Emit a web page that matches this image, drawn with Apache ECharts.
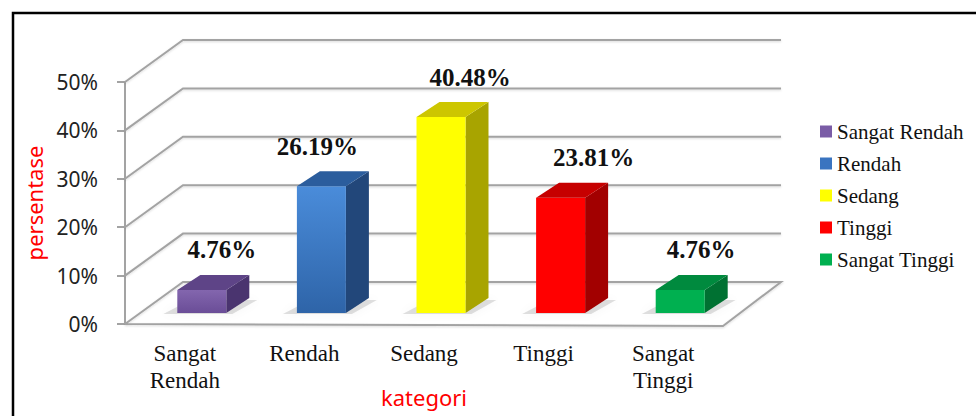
<!DOCTYPE html>
<html lang="id">
<head>
    <meta charset="UTF-8">
    <script src="https://cdn.jsdelivr.net/npm/echarts@6/dist/echarts.min.js"></script>
    <title>Kategori</title>
    <style>
        html, body {
            margin: 0;
            padding: 0;
            background: #fff;
        }

        #main {
            width: 976px;
            height: 416px;
        }
    </style>
</head>
<body>
    <div id="main"></div>
    <script>
        var categories = ['Sangat Rendah', 'Rendah', 'Sedang', 'Tinggi', 'Sangat Tinggi'];
        var axisLabels = ['Sangat\nRendah', 'Rendah', 'Sedang', 'Tinggi', 'Sangat\nTinggi'];
        var percentages = [4.76, 26.19, 40.48, 23.81, 4.76];
        var yTicks = [0, 10, 20, 30, 40, 50];

        // colours of the three visible faces of each column
        var faceColors = [
            { front: ['#8366ae', '#6a4d97'], top: '#5e4487', side: '#4a346f', legend: '#7a5ca6' },
            { front: ['#4a8cda', '#2e64a8'], top: '#2b5d9d', side: '#22477a', legend: '#3a74c0' },
            { front: ['#ffff00', '#ffff00'], top: '#cdc600', side: '#a8a400', legend: '#ffff00' },
            { front: ['#ff0000', '#ff0000'], top: '#c60000', side: '#a20000', legend: '#ff0000' },
            { front: ['#00b050', '#00b050'], top: '#008a3e', side: '#007132', legend: '#00b050' }
        ];
        // horizontal nudge of each value label (Excel places them unevenly)
        var labelDx = [20, -4, 29, 33, 21];

        // fake 3D depth
        var WALL_DX = 58, WALL_DY = 42;
        var BAR_OFF_X = 17, BAR_OFF_Y = 11;
        var BAR_W = 49, BAR_DX = 23, BAR_DY = 15;
        var GRID_COLOR = '#a3a3a3';

        var chart = echarts.init(document.getElementById('main'), null, { renderer: 'svg' });

        function renderWall(params, api) {
            var cs = params.coordSys;
            var y = api.coord([0, api.value(1)])[1];
            var left = cs.x, right = cs.x + cs.width;
            var pts = [[left, y], [left + WALL_DX, y - WALL_DY], [right + WALL_DX, y - WALL_DY]];
            if (api.value(1) === 0) {
                // floor: back edge plus right and front edges
                pts.push([right, y + 2]);
                pts.push([left, y]);
            }
            return {
                type: 'polyline',
                shape: { points: pts },
                style: { stroke: GRID_COLOR, lineWidth: 2, fill: null, shadowColor: 'rgba(0,0,0,0.15)', shadowBlur: 2, shadowOffsetY: 1 }
            };
        }

        function renderBar(params, api) {
            var idx = api.value(0);
            var v = api.value(1);
            var base = api.coord([idx, 0]);
            var top = api.coord([idx, v]);
            var xl = base[0] + BAR_OFF_X - BAR_W / 2;
            var xr = xl + BAR_W;
            var yb = base[1] - BAR_OFF_Y;
            var yt = top[1] - BAR_OFF_Y;
            var c = faceColors[idx];
            return {
                type: 'group',
                children: [
                    {
                        type: 'polygon',
                        shape: { points: [[xl - 14, yb + 1], [xl + BAR_DX - 10, yb - BAR_DY + 2], [xr + BAR_DX + 8, yb - BAR_DY + 2], [xr + 6, yb + 1]] },
                        style: { fill: 'rgba(0,0,0,0.12)', shadowColor: 'rgba(0,0,0,0.3)', shadowBlur: 8 }
                    },
                    {
                        type: 'polygon',
                        shape: { points: [[xr, yt], [xr + BAR_DX, yt - BAR_DY], [xr + BAR_DX, yb - BAR_DY], [xr, yb]] },
                        style: { fill: c.side }
                    },
                    {
                        type: 'rect',
                        shape: { x: xl, y: yt, width: BAR_W, height: yb - yt },
                        style: {
                            fill: new echarts.graphic.LinearGradient(0, 0, 0, 1, [
                                { offset: 0, color: c.front[0] },
                                { offset: 1, color: c.front[1] }
                            ])
                        }
                    },
                    {
                        type: 'polygon',
                        shape: { points: [[xl, yt], [xl + BAR_DX, yt - BAR_DY], [xr + BAR_DX, yt - BAR_DY], [xr, yt]] },
                        style: { fill: c.top }
                    },
                    {
                        type: 'text',
                        x: xl + BAR_W / 2 + labelDx[idx],
                        y: yt - 40,
                        style: {
                            text: v.toFixed(2) + '%',
                            fontFamily: 'Liberation Serif',
                            fontWeight: 'bold',
                            fontSize: 25,
                            fill: '#111',
                            align: 'center',
                            verticalAlign: 'middle'
                        }
                    }
                ]
            };
        }

        var series = [{
            name: 'wall',
            type: 'custom',
            silent: true,
            z: 1,
            renderItem: renderWall,
            encode: { x: 0, y: 1 },
            data: yTicks.map(function (t) { return [0, t]; })
        }];

        categories.forEach(function (name, i) {
            series.push({
                name: name,
                type: 'custom',
                z: 2,
                renderItem: renderBar,
                itemStyle: { color: faceColors[i].legend },
                encode: { x: 0, y: 1 },
                data: [[i, percentages[i]]]
            });
        });

        var option = {
            animation: false,
            backgroundColor: '#fff',
            graphic: [{
                type: 'rect',
                shape: { x: 13, y: 13, width: 1000, height: 500 },
                style: { fill: null, stroke: '#000', lineWidth: 2.5 },
                silent: true
            }],
            legend: {
                data: categories,
                orient: 'vertical',
                left: 815,
                top: 116,
                icon: 'rect',
                itemWidth: 12,
                itemHeight: 12,
                itemGap: 11,
                textStyle: { fontFamily: 'Liberation Serif', fontSize: 21, color: '#111' }
            },
            grid: {
                left: 125,
                top: 82,
                width: 598,
                height: 242,
                containLabel: false,
                outerBoundsMode: 'none'
            },
            xAxis: {
                type: 'category',
                data: axisLabels,
                axisLine: { show: false },
                axisTick: { show: false },
                axisLabel: {
                    fontFamily: 'Liberation Serif',
                    fontSize: 23,
                    lineHeight: 27,
                    color: '#111',
                    margin: 16,
                    interval: 0
                },
                name: 'kategori',
                nameLocation: 'middle',
                nameGap: 62,
                nameMoveOverlap: false,
                nameTextStyle: { color: '#ff0000', fontFamily: 'Noto Sans', fontSize: 22 }
            },
            yAxis: {
                type: 'value',
                min: 0,
                max: 50,
                interval: 10,
                axisLine: { show: true, lineStyle: { color: GRID_COLOR, width: 2 } },
                axisTick: { show: true, length: 8, lineStyle: { color: GRID_COLOR, width: 2 } },
                splitLine: { show: false },
                axisLabel: {
                    formatter: '{value}%',
                    fontFamily: 'Noto Sans',
                    fontSize: 21,
                    color: '#222',
                    margin: 27
                },
                name: 'persentase',
                nameLocation: 'middle',
                nameGap: 80,
                nameMoveOverlap: false,
                nameTextStyle: { color: '#ff0000', fontFamily: 'Noto Sans', fontSize: 22 }
            },
            series: series
        };

        chart.setOption(option);
    </script>
</body>
</html>
